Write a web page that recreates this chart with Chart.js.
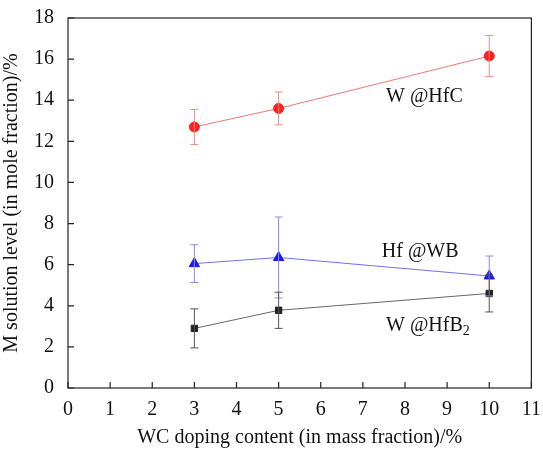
<!DOCTYPE html>
<html>
<head>
<meta charset="utf-8">
<script src="https://cdn.jsdelivr.net/npm/chart.js@4/dist/chart.umd.min.js"></script>
<style>
html, body { margin: 0; padding: 0; background: #fff; }
#wrap { width: 543px; height: 452px; }
</style>
</head>
<body>
<div id="wrap"><canvas id="chart"></canvas></div>
<script>
// WC doping content, mass fraction %
var dopings = [3, 5, 10]

var hfcValues = [12.7, 13.6, 16.15]
var hfcErrors = [0.85, 0.8, 1.0]

var wbValues = [6.05, 6.35, 5.45]
var wbErrors = [0.92, 1.97, 0.97]

var hfb2Values = [2.9, 3.78, 4.6]
var hfb2Errors = [0.95, 0.88, 0.9]

var xTicks = [0, 1, 2, 3, 4, 5, 6, 7, 8, 9, 10, 11]
var yTicks = [0, 2, 4, 6, 8, 10, 12, 14, 16, 18]

var SERIF = "'Liberation Serif', 'Times New Roman', 'DejaVu Serif', serif"

function points(vals) {
	return dopings.map(function (d, i) { return {x: d, y: vals[i]} })
}

// error bars, read from the dataset's errors array
var errorBars = {
	id: 'errorBars',
	afterDatasetsDraw: function (chart) {
		var ctx = chart.ctx
		var xs = chart.scales.x, ys = chart.scales.y
		chart.data.datasets.forEach(function (ds) {
			ctx.save()
			ctx.strokeStyle = ds.errColor
			ctx.lineWidth = 1
			ds.data.forEach(function (p, i) {
				var px = xs.getPixelForValue(p.x)
				var top = ys.getPixelForValue(p.y + ds.errors[i])
				var bot = ys.getPixelForValue(p.y - ds.errors[i])
				ctx.beginPath()
				ctx.moveTo(px, top); ctx.lineTo(px, bot)
				ctx.moveTo(px - 4, top); ctx.lineTo(px + 4, top)
				ctx.moveTo(px - 4, bot); ctx.lineTo(px + 4, bot)
				ctx.stroke()
			})
			ctx.restore()
		})
	}
}

// frame, inward ticks and the series labels
var frame = {
	id: 'frame',
	afterDraw: function (chart) {
		var ctx = chart.ctx, a = chart.chartArea
		var xs = chart.scales.x, ys = chart.scales.y
		ctx.save()
		ctx.strokeStyle = '#222'
		ctx.lineWidth = 1.2
		ctx.strokeRect(a.left, a.top, a.right - a.left, a.bottom - a.top)
		ctx.beginPath()
		xTicks.forEach(function (t) {
			var px = xs.getPixelForValue(t)
			ctx.moveTo(px, a.bottom); ctx.lineTo(px, a.bottom - 6)
		})
		yTicks.forEach(function (t) {
			var py = ys.getPixelForValue(t)
			ctx.moveTo(a.left, py); ctx.lineTo(a.left + 6, py)
		})
		ctx.stroke()

		ctx.fillStyle = '#111'
		ctx.font = '20px ' + SERIF
		ctx.textBaseline = 'alphabetic'
		ctx.fillText('W @HfC', xs.getPixelForValue(7.55), ys.getPixelForValue(13.9))
		ctx.fillText('Hf @WB', xs.getPixelForValue(7.45), ys.getPixelForValue(6.35))
		var bx = xs.getPixelForValue(7.55), by = ys.getPixelForValue(2.75)
		ctx.fillText('W @HfB', bx, by)
		var w = ctx.measureText('W @HfB').width
		ctx.font = '14px ' + SERIF
		ctx.fillText('2', bx + w, by + 4)
		ctx.restore()
	}
}

new Chart(document.getElementById('chart'), {
	type: 'scatter',
	data: {
		datasets: [
			{
				label: 'W @HfC',
				data: points(hfcValues),
				errors: hfcErrors,
				errColor: '#f08a8a',
				showLine: true,
				borderColor: '#f07878',
				borderWidth: 1,
				pointStyle: 'circle',
				pointRadius: 5,
				pointBackgroundColor: '#ff2020',
				pointBorderColor: '#ff2020'
			},
			{
				label: 'Hf @WB',
				data: points(wbValues),
				errors: wbErrors,
				errColor: '#8a8af0',
				showLine: true,
				borderColor: '#7070f0',
				borderWidth: 1,
				pointStyle: 'triangle',
				pointRadius: 6,
				pointBackgroundColor: '#1a1aee',
				pointBorderColor: '#1a1aee'
			},
			{
				label: 'W @HfB2',
				data: points(hfb2Values),
				errors: hfb2Errors,
				errColor: '#555',
				showLine: true,
				borderColor: '#666',
				borderWidth: 1,
				pointStyle: 'rect',
				pointRadius: 4.5,
				pointBackgroundColor: '#222',
				pointBorderColor: '#222'
			}
		]
	},
	options: {
		responsive: true,
		maintainAspectRatio: false,
		animation: false,
		layout: { padding: { top: 6, right: 8, bottom: 2, left: 0 } },
		plugins: { legend: { display: false }, tooltip: { enabled: false } },
		scales: {
			x: {
				type: 'linear', min: 0, max: 11,
				grid: { display: false },
				border: { display: false },
				ticks: { stepSize: 1, color: '#111', font: { family: SERIF, size: 20 }, padding: 2 },
				title: { display: true, text: 'WC doping content (in mass fraction)/%', color: '#111',
					font: { family: SERIF, size: 20 }, padding: { top: 2, bottom: 0 } }
			},
			y: {
				type: 'linear', min: 0, max: 18,
				grid: { display: false },
				border: { display: false },
				ticks: { stepSize: 2, color: '#111', font: { family: SERIF, size: 20 }, padding: 6 },
				title: { display: true, text: 'M solution level (in mole fraction)/%', color: '#111',
					font: { family: SERIF, size: 20 }, padding: { top: 0, bottom: 4 } }
			}
		}
	},
	plugins: [errorBars, frame]
})
</script>
</body>
</html>
